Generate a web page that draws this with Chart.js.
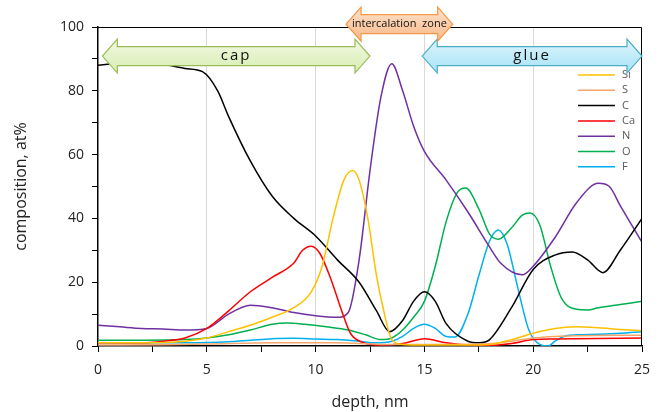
<!DOCTYPE html>
<html>
<head>
<meta charset="utf-8">
<script src="https://cdn.jsdelivr.net/npm/chart.js@4.4.1/dist/chart.umd.min.js"></script>
<style>
  html, body { margin: 0; padding: 0; background: #fff; }
  #wrap { width: 669px; height: 412px; }
</style>
</head>
<body>
<div id="wrap"><canvas id="myChart" width="669" height="412"></canvas></div>
<script>
// depth profile values (depth in nm, composition in at%)
const depthSi = [0, 2, 4, 5, 6, 7, 8, 9, 9.8, 10.3, 10.8, 11.3, 11.7, 12, 12.4, 12.8, 13.1, 13.5, 14, 15, 16, 17, 18, 19, 20, 21, 22, 23, 24, 25];
const si = [1, 1, 1.5, 2.5, 4.5, 6.5, 9, 12, 17, 25, 40, 52, 55, 52, 40, 22, 12, 2, 0.5, 0.3, 0.3, 0.3, 0.5, 2, 4, 5.5, 6, 5.7, 5.2, 4.8];

const depthS = [0, 3, 5, 8, 11, 13, 15, 18, 19, 20, 21, 22, 25];
const s = [0.3, 0.4, 0.6, 1, 1, 0.5, 0.5, 0.7, 1.5, 2.5, 3, 3.2, 3.4];

const depthC = [0, 1, 2, 3, 4, 4.8, 5.5, 6, 7, 8, 9, 10, 11, 12, 12.8, 13.4, 14, 14.5, 15, 15.5, 16, 17, 17.5, 18, 19, 20, 21, 21.8, 22.5, 23.2, 24, 25];
const c = [88, 88.7, 89, 88.3, 87, 86, 80, 72, 58, 47, 40, 34.5, 27, 20, 11, 4.5, 8, 14, 17, 14, 7, 1.5, 1, 2, 12, 24, 28.5, 29.5, 27, 23, 30, 40];

const depthCa = [0, 2, 3, 4, 5, 6, 7, 8, 9, 9.4, 9.8, 10.2, 10.7, 11.2, 11.6, 12.2, 13, 14, 15, 16, 17, 18, 19, 20, 21, 22, 25];
const ca = [1, 1, 1.5, 2.5, 5.5, 11, 17, 21.5, 26, 30, 31.3, 29, 21, 11, 4, 1, 0.3, 0.8, 2.3, 1, 0.3, 0.2, 0.8, 2, 2.2, 2.3, 2.5];

const depthN = [0, 1, 2, 3, 4, 5, 6, 7, 8, 9, 10, 11, 11.5, 12, 12.5, 13, 13.5, 14, 14.5, 15, 16, 17, 18, 18.5, 19.5, 20, 21, 22, 23, 23.5, 24, 25];
const n = [6.5, 6, 5.5, 5.3, 5, 5.5, 10, 12.8, 12, 10.5, 9.5, 9, 10.5, 27, 55, 78, 88.5, 80, 69, 61, 52, 42, 31, 26, 22.3, 25, 34, 45, 51, 50, 44, 32.5];

const depthO = [0, 2, 4, 5, 6, 7, 8, 8.7, 9.5, 10.5, 11.5, 12.3, 13, 13.5, 14, 14.5, 15, 15.5, 16, 16.5, 16.9, 17.5, 18, 18.4, 19, 19.5, 19.85, 20.3, 20.8, 21.3, 22, 22.5, 23, 24, 25];
const o = [1.8, 1.8, 2, 2.5, 3.5, 5, 6.8, 7.2, 6.8, 6, 5, 3.5, 2, 2.5, 5, 9, 14, 25, 39, 48, 49.5, 43, 35, 33.5, 37, 41, 41.7, 38, 25, 15, 11.5, 11.3, 12, 13, 14];

const depthF = [0, 2, 4, 6, 7, 8, 9, 10, 11, 12, 12.8, 13.5, 14, 14.5, 15, 15.5, 16, 16.4, 17, 17.5, 18, 18.4, 18.8, 19.3, 19.8, 20.3, 20.7, 21, 21.5, 22, 23, 24, 25];
const f = [1, 1, 1, 1.3, 1.8, 2.3, 2.4, 2.2, 2, 1.5, 1, 1.5, 3, 5.5, 6.8, 5.5, 3, 2.8, 10, 22, 33, 36.4, 32, 18, 5, 0.5, 0, 1.5, 3.2, 3.5, 3.7, 4, 4.5];

const seriesNames = ['Si', 'S', 'C', 'Ca', 'N', 'O', 'F'];
const seriesColors = ['#ffc000', '#f4a56c', '#000000', '#ff0000', '#7030a0', '#00b050', '#00b0f0'];

// zone arrows: start/end depth, centre height in at%
const zones = [
  { label: 'cap', from: 0.2, to: 12.5, level: 90.9, fill: ['#f2f9e4', '#d6edb0'], stroke: '#9bbb59', font: '15px "Open Sans"', spacing: '2px' },
  { label: 'glue', from: 14.9, to: 25, level: 90.9, fill: ['#def5fd', '#a6e2f6'], stroke: '#4bacc6', font: '15px "Open Sans"', spacing: '2px' },
  { label: 'intercalation  zone', from: 11.4, to: 16.3, level: 100.9, fill: ['#fde3cd', '#f9b888'], stroke: '#f79646', font: '11px "Open Sans"', spacing: '0px' }
];

function zip(xs, ys) {
  return xs.map((x, i) => ({ x: x, y: ys[i] }));
}

const allData = [zip(depthSi, si), zip(depthS, s), zip(depthC, c), zip(depthCa, ca), zip(depthN, n), zip(depthO, o), zip(depthF, f)];

function drawArrow(ctx, x1, x2, yc, headH, shaftH, headW) {
  ctx.beginPath();
  ctx.moveTo(x1, yc);
  ctx.lineTo(x1 + headW, yc - headH / 2);
  ctx.lineTo(x1 + headW, yc - shaftH / 2);
  ctx.lineTo(x2 - headW, yc - shaftH / 2);
  ctx.lineTo(x2 - headW, yc - headH / 2);
  ctx.lineTo(x2, yc);
  ctx.lineTo(x2 - headW, yc + headH / 2);
  ctx.lineTo(x2 - headW, yc + shaftH / 2);
  ctx.lineTo(x1 + headW, yc + shaftH / 2);
  ctx.lineTo(x1 + headW, yc + headH / 2);
  ctx.closePath();
}

const extras = {
  id: 'extras',
  afterDraw(chart) {
    const ctx = chart.ctx;
    const area = chart.chartArea;
    const xs = chart.scales.x, ys = chart.scales.y;

    // frame on top and right
    ctx.save();
    ctx.strokeStyle = '#000';
    ctx.lineWidth = 1;
    ctx.beginPath();
    ctx.moveTo(area.left, area.top + 0.5);
    ctx.lineTo(area.right - 0.5, area.top + 0.5);
    ctx.lineTo(area.right - 0.5, area.bottom);
    ctx.stroke();

    // legend inside the plot
    ctx.font = '11px "Open Sans"';
    ctx.textBaseline = 'middle';
    ctx.textAlign = 'left';
    seriesNames.forEach((name, i) => {
      const y = area.top + 48 + i * 15.3;
      ctx.strokeStyle = seriesColors[i];
      ctx.lineWidth = 1.5;
      ctx.beginPath();
      ctx.moveTo(area.right - 64, y);
      ctx.lineTo(area.right - 27, y);
      ctx.stroke();
      ctx.fillStyle = '#595959';
      ctx.fillText(name, area.right - 20, y);
    });

    // zone arrows
    zones.forEach(z => {
      const x1 = xs.getPixelForValue(z.from);
      const x2 = xs.getPixelForValue(z.to);
      const yc = ys.getPixelForValue(z.level);
      const g = ctx.createLinearGradient(0, yc - 17, 0, yc + 17);
      g.addColorStop(0, z.fill[0]);
      g.addColorStop(1, z.fill[1]);
      drawArrow(ctx, x1, x2, yc, 34, 19, 15);
      ctx.fillStyle = g;
      ctx.fill();
      ctx.strokeStyle = z.stroke;
      ctx.lineWidth = 1.2;
      ctx.stroke();
      ctx.fillStyle = '#111';
      ctx.font = z.font;
      ctx.letterSpacing = z.spacing;
      ctx.textAlign = 'center';
      ctx.textBaseline = 'middle';
      ctx.fillText(z.label, (x1 + x2) / 2, yc);
      ctx.letterSpacing = '0px';
    });
    ctx.restore();
  }
};

const ctx = document.getElementById('myChart').getContext('2d');
const myChart = new Chart(ctx, {
  type: 'line',
  data: {
    datasets: seriesNames.map((name, i) => ({
      label: name,
      data: allData[i],
      borderColor: seriesColors[i],
      backgroundColor: seriesColors[i],
      borderWidth: 1.5,
      pointRadius: 0,
      cubicInterpolationMode: 'monotone',
      fill: false
    }))
  },
  options: {
    responsive: false,
    animation: false,
    layout: { padding: { top: 27, right: 27, left: 0, bottom: 0 } },
    plugins: {
      legend: { display: false },
      tooltip: { enabled: false }
    },
    scales: {
      x: {
        type: 'linear',
        min: 0,
        max: 25,
        ticks: {
          stepSize: 2.5,
          autoSkip: false,
          maxRotation: 0,
          padding: 10,
          color: '#222',
          font: { family: 'Open Sans', size: 14 },
          callback: v => (v % 5 === 0 ? v : '')
        },
        grid: {
          color: c => (c.tick && c.tick.value % 5 === 0 && c.tick.value > 0 && c.tick.value < 25 ? '#d9d9d9' : 'rgba(0,0,0,0)'),
          tickColor: '#000',
          tickLength: 6,
          lineWidth: 1
        },
        border: { color: '#000', width: 1.5 },
        title: {
          display: true,
          text: 'depth, nm',
          color: '#222',
          font: { family: 'Open Sans', size: 16 },
          padding: { top: 6, bottom: 0 }
        },
        afterFit: scale => { scale.height = 66; }
      },
      y: {
        min: 0,
        max: 100,
        ticks: {
          stepSize: 10,
          autoSkip: false,
          padding: 8,
          color: '#222',
          font: { family: 'Open Sans', size: 14 },
          callback: v => (v % 20 === 0 ? v : '')
        },
        grid: {
          drawOnChartArea: false,
          tickColor: '#000',
          tickLength: 6
        },
        border: { color: '#000', width: 1.5 },
        title: {
          display: true,
          text: 'composition, at%',
          color: '#222',
          font: { family: 'Open Sans', size: 16 },
          padding: { top: 12, bottom: 4 }
        },
        afterFit: scale => { scale.width = 98; }
      }
    }
  },
  plugins: [extras]
});
</script>
</body>
</html>
